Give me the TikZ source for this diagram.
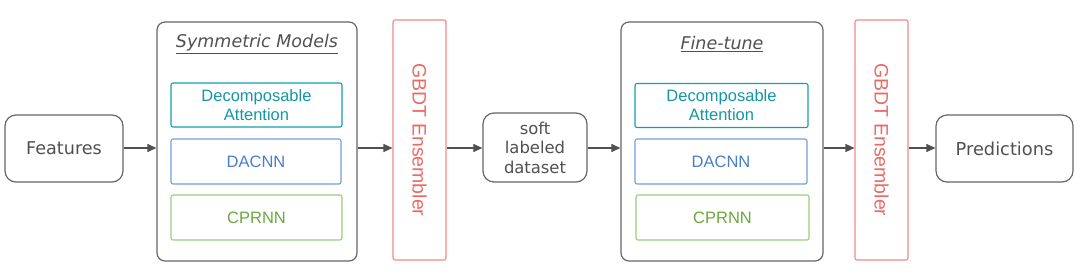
\documentclass[tikz,border=0pt]{standalone}
\usepackage{fontspec}
\setmainfont{DejaVu Sans}
\newfontfamily\arialf{Liberation Sans}
\usetikzlibrary{arrows.meta}
\definecolor{grayline}{HTML}{666666}
\definecolor{graytext}{HTML}{505050}
\definecolor{tealc}{HTML}{12A0AA}
\definecolor{tealt}{HTML}{1496A3}
\definecolor{bluec}{HTML}{6E9FDB}
\definecolor{bluet}{HTML}{4A7DCB}
\definecolor{greenc}{HTML}{9ACD7E}
\definecolor{greent}{HTML}{6AA83C}
\definecolor{redc}{HTML}{EE8A87}
\definecolor{redt}{HTML}{EA6B66}
\tikzset{
  gbox/.style={draw=grayline, line width=1.2pt, rounded corners=11pt, text=graytext, align=center, inner sep=0pt},
  groupbox/.style={draw=grayline, line width=1.2pt, rounded corners=8pt, inner sep=0pt},
  inbox/.style={line width=1.1pt, rounded corners=2pt, align=center, inner sep=0pt, font=\arialf\fontsize{16.5pt}{19pt}\selectfont},
  gbdt/.style={draw=redc, line width=1.1pt, rounded corners=2pt, inner sep=0pt, minimum width=53pt, minimum height=240pt},
  arr/.style={draw=graytext, line width=1.1pt, -{Triangle[length=9pt,width=8pt]}},
  ttl/.style={text=graytext, font=\itshape\fontsize{17.5pt}{20pt}\selectfont}
}
\begin{document}
\begin{tikzpicture}[x=1pt,y=-1pt]
\useasboundingbox (0,0) rectangle (1081,277);
% left part
\node[gbox, minimum width=118pt, minimum height=67pt, font=\fontsize{17.6pt}{20pt}\selectfont] (feat) at (64,148.5) {Features};
\node[groupbox, minimum width=200pt, minimum height=239pt] (sym) at (257,141.5) {};
\node[ttl] (symt) at (257,44) {\underline{Symmetric Models}};
\node[inbox, draw=tealc, text=tealt, minimum width=171pt, minimum height=44pt] (da1) at (256.5,105) {Decomposable\\Attention};
\node[inbox, draw=bluec, text=bluet, minimum width=170pt, minimum height=45pt] (dc1) at (256,161.5) {DACNN};
\node[inbox, draw=greenc, text=greent, minimum width=171pt, minimum height=45pt] (cp1) at (256.5,217.5) {CPRNN};
\node[gbdt] (g1) at (419.5,140) {};
\node[rotate=-90, text=redt, font=\arialf\fontsize{19.5pt}{22pt}\selectfont] (g1t) at (g1.center) {GBDT Ensembler};
\node[gbox, minimum width=104pt, minimum height=69pt, font=\fontsize{16.4pt}{19.5pt}\selectfont] (soft) at (535,147.5) {soft\\labeled\\dataset};
% right part
\node[groupbox, minimum width=202pt, minimum height=239pt] (fine) at (722,141.5) {};
\node[ttl] (finet) at (722,44) {\underline{Fine-tune}};
\node[inbox, draw=tealc, text=tealt, minimum width=173pt, minimum height=44pt] (da2) at (721.5,105.5) {Decomposable\\Attention};
\node[inbox, draw=bluec, text=bluet, minimum width=172pt, minimum height=45pt] (dc2) at (721,161.5) {DACNN};
\node[inbox, draw=greenc, text=greent, minimum width=173pt, minimum height=45pt] (cp2) at (722.5,217.5) {CPRNN};
\node[gbdt] (g2) at (881.5,140) {};
\node[rotate=-90, text=redt, font=\arialf\fontsize{19.5pt}{22pt}\selectfont] (g2t) at (g2.center) {GBDT Ensembler};
\node[gbox, minimum width=137pt, minimum height=67pt, font=\fontsize{17.8pt}{20pt}\selectfont] (pred) at (1004.5,148.5) {Predictions};
% arrows
\coordinate (ay) at (0,148);
\draw[arr] (feat.east |- ay) -- (sym.west |- ay);
\draw[arr] (sym.east |- ay) -- (g1.west |- ay);
\draw[arr] (g1.east |- ay) -- (soft.west |- ay);
\draw[arr] (soft.east |- ay) -- (fine.west |- ay);
\draw[arr] (fine.east |- ay) -- (g2.west |- ay);
\draw[arr] (g2.east |- ay) -- (pred.west |- ay);
\end{tikzpicture}
\end{document}
